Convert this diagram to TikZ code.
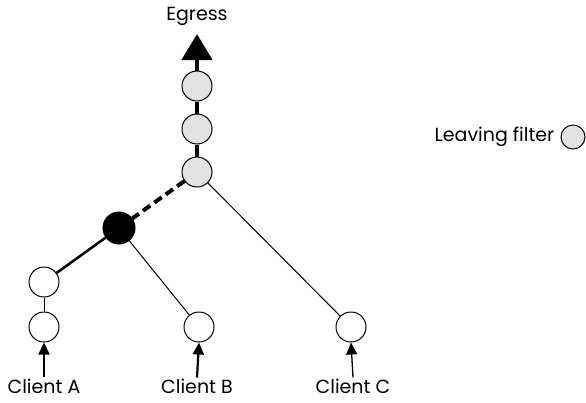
\documentclass[tikz,border=0pt]{standalone}
\usepackage{fontspec}
\setmainfont{Poppins}
\usetikzlibrary{arrows.meta}
\begin{document}
\begin{tikzpicture}[x=1pt,y=-1pt,
  filt/.style={circle,draw,line width=1pt,minimum size=30pt,inner sep=0pt,fill=white},
  leave/.style={filt,fill=gray!22},
  blackf/.style={filt,fill=black,minimum size=32pt},
  lbl/.style={font=\fontsize{19}{21}\selectfont,inner sep=1pt},
  chain/.style={line width=4.5pt},
  thin/.style={line width=1pt},
  inarrow/.style={-{Triangle[width=11pt,length=12pt]}}]
\useasboundingbox (0,0) rectangle (586,402);
\node[lbl] (egress) at (197,16) {Egress};
\node[leave] (g1) at (197,86) {};
\node[leave] (g2) at (197,129) {};
\node[leave] (g3) at (197,172) {};
\node[blackf] (k) at (119,228) {};
\node[filt] (a1) at (44,282) {};
\node[filt] (a2) at (44,327) {};
\node[filt] (b) at (199,327) {};
\node[filt] (c) at (351,327) {};
\node[lbl] (la) at (44,386) {Client A};
\node[lbl] (lb) at (197,386) {Client B};
\node[lbl] (lc) at (353,386) {Client C};
\node[leave,minimum size=24pt] (leg) at (573,137) {};
\node[lbl,anchor=east,xshift=-5pt] (legt) at (leg.west) {Leaving filter};
\coordinate (tip) at (197,34);
\draw[chain] (g1) -- (g2);
\draw[chain] (g2) -- (g3);
\draw[chain,-{Triangle[width=30pt,length=26pt]}] (g1.north) -- (tip);
\draw[line width=4pt,dash pattern=on 9pt off 5pt] (g3) -- (k);
\draw[line width=2.5pt] (k) -- (a1);
\draw[thin] (a1) -- (a2);
\draw[thin] (k) -- (b);
\draw[thin] (g3) -- (c);
\draw[line width=2.2pt,inarrow] (la.north) -- (a2.south);
\draw[line width=2.2pt,inarrow] (lb.north) -- (b.south);
\draw[line width=1.3pt,inarrow] (lc.north) -- (c.south);
\end{tikzpicture}
\end{document}
